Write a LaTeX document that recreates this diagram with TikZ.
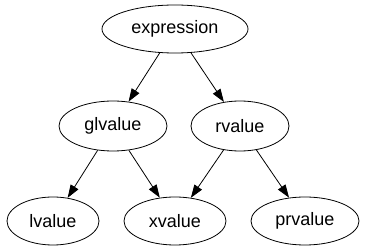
\documentclass[tikz,border=0pt]{standalone}
\usepackage{fontspec}
\setmainfont{Liberation Sans}
\usetikzlibrary{shapes.geometric,arrows.meta}
\begin{document}
\begin{tikzpicture}[x=1pt,y=-1pt,
  vnode/.style={ellipse,draw,line width=0.8pt,inner sep=0pt,minimum height=48pt,font=\fontsize{18}{20}\selectfont},
  edge/.style={line width=0.8pt,-{Triangle[length=13pt,width=9pt]}}]
\useasboundingbox (0,0) rectangle (365,251);
\node[vnode,minimum width=146pt] (expr) at (175,29) {expression};
\node[vnode,minimum width=108pt,minimum height=50pt] (gl) at (113,126) {glvalue};
\node[vnode,minimum width=98pt,minimum height=50pt] (r) at (240,126) {rvalue};
\node[vnode,minimum width=92pt] (l) at (53,221) {lvalue};
\node[vnode,minimum width=102pt] (x) at (175,221) {xvalue};
\node[vnode,minimum width=108pt] (pr) at (305,221) {prvalue};
\draw[edge] (expr) -- (gl);
\draw[edge] (expr) -- (r);
\draw[edge] (gl) -- (l);
\draw[edge] (gl) -- (x);
\draw[edge] (r) -- (x);
\draw[edge] (r) -- (pr);
\end{tikzpicture}
\end{document}
